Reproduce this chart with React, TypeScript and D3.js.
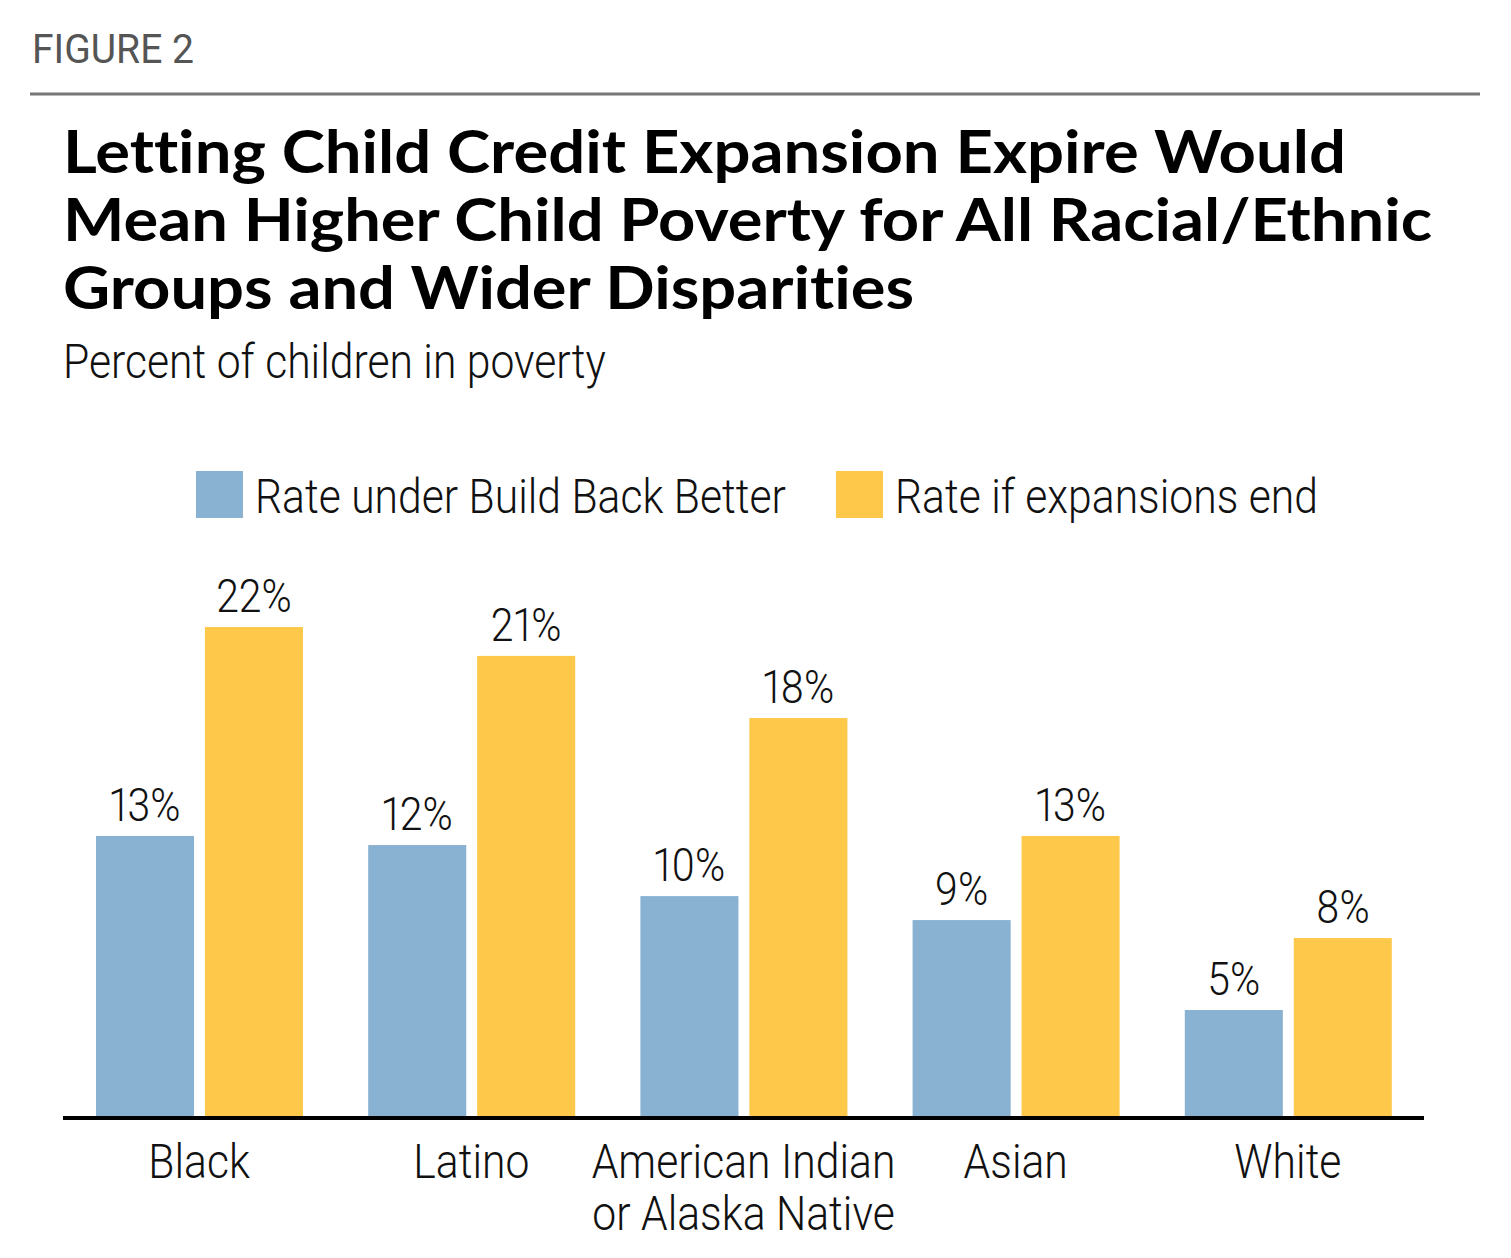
import React from "react";
import * as d3 from "d3";

const categories = ["Black", "Latino", "American Indian\nor Alaska Native", "Asian", "White"];
const seriesNames = ["Rate under Build Back Better", "Rate if expansions end"];
const bbbValues = [12.66, 12.25, 9.95, 8.87, 4.82];
const endValues = [22.07, 20.77, 17.97, 12.66, 8.06];
const bbbLabels = ["13%", "12%", "10%", "9%", "5%"];
const endLabels = ["22%", "21%", "18%", "13%", "8%"];
const titleLines = [
  "Letting Child Credit Expansion Expire Would",
  "Mean Higher Child Poverty for All Racial/Ethnic",
  "Groups and Wider Disparities",
];
const titleWidths = [1283, 1369, 851];

const W = 1511;
const H = 1258;
const BLUE = "#88b1d2";
const YELLOW = "#fec84b";
const LIGHT = "Roboto, sans-serif";

// squeeze factor so Roboto Light looks like the condensed face of the original
const ctx = typeof document !== "undefined" ? document.createElement("canvas").getContext("2d") : null;
function measure(t: string, size: number) {
  if (!ctx) return t.length * size * 0.45;
  ctx.font = `300 ${size}px Roboto`;
  return ctx.measureText(t).width;
}
const K = 531 / measure(seriesNames[0], 48);

function Narrow(props: { x: number; y: number; size: number; anchor?: string; children: string }) {
  const { x, y, size, anchor, children } = props;
  return (
    <text
      transform={`translate(${x},${y}) scale(${K},1)`}
      fontFamily={LIGHT}
      fontWeight={300}
      fontSize={size}
      fill="#111"
      textAnchor={anchor || "start"}
      style={{ fontVariantNumeric: "proportional-nums" }}
    >
      {children}
    </text>
  );
}

export default function App() {
  const left = 63;
  const right = 1424;
  const baseY = 1117;

  const x0 = d3.scaleBand<string>().domain(categories).range([left, right]).padding(0);
  const x1 = d3
    .scaleBand<string>()
    .domain(["bbb", "end"])
    .range([33, 240])
    .paddingInner(0.1);
  const y = d3.scaleLinear().domain([0, 25]).range([baseY, baseY - 25 * 22.2]);

  const rows = categories.map((c, i) => ({
    cat: c,
    bars: [
      { key: "bbb", v: bbbValues[i], label: bbbLabels[i], color: BLUE },
      { key: "end", v: endValues[i], label: endLabels[i], color: YELLOW },
    ],
  }));

  return (
    <svg
      width={W}
      height={H}
      style={{ position: "absolute", left: 0, top: 0, background: "#fff" }}
    >
      <text x={32} y={63} fontFamily="Roboto, sans-serif" fontSize={41} fill="#555" textLength={162} lengthAdjust="spacingAndGlyphs">
        FIGURE 2
      </text>
      <line x1={30} x2={1480} y1={94} y2={94} stroke="#777" strokeWidth={3} />

      {titleLines.map((t, i) => (
        <text
          key={i}
          x={63}
          y={173 + i * 68}
          fontFamily="Lato, sans-serif"
          fontWeight={700}
          fontSize={59}
          fill="#000"
          style={{ fontVariantLigatures: "none" }}
          textLength={titleWidths[i]}
          lengthAdjust="spacingAndGlyphs"
        >
          {t}
        </text>
      ))}

      <Narrow x={63} y={378} size={48}>Percent of children in poverty</Narrow>

      {/* legend */}
      <rect x={196} y={471} width={47} height={47} fill={BLUE} />
      <Narrow x={255} y={513} size={48}>{seriesNames[0]}</Narrow>
      <rect x={836} y={471} width={47} height={47} fill={YELLOW} />
      <Narrow x={895} y={513} size={48}>{seriesNames[1]}</Narrow>

      {rows.map((r) => (
        <g key={r.cat} transform={`translate(${x0(r.cat)},0)`}>
          {r.bars.map((b) => {
            const bx = x1(b.key)!;
            const bw = x1.bandwidth();
            return (
              <g key={b.key}>
                <rect x={bx} y={y(b.v)} width={bw} height={baseY - y(b.v)} fill={b.color} />
                <Narrow x={bx + bw / 2} y={y(b.v) - 15} size={46} anchor="middle">
                  {b.label}
                </Narrow>
              </g>
            );
          })}
          {r.cat.split("\n").map((line, k) => (
            <Narrow key={k} x={x0.bandwidth() / 2} y={1178 + k * 52} size={48} anchor="middle">
              {line}
            </Narrow>
          ))}
        </g>
      ))}

      <line x1={left} x2={right} y1={baseY + 1} y2={baseY + 1} stroke="#000" strokeWidth={4} />
    </svg>
  );
}
